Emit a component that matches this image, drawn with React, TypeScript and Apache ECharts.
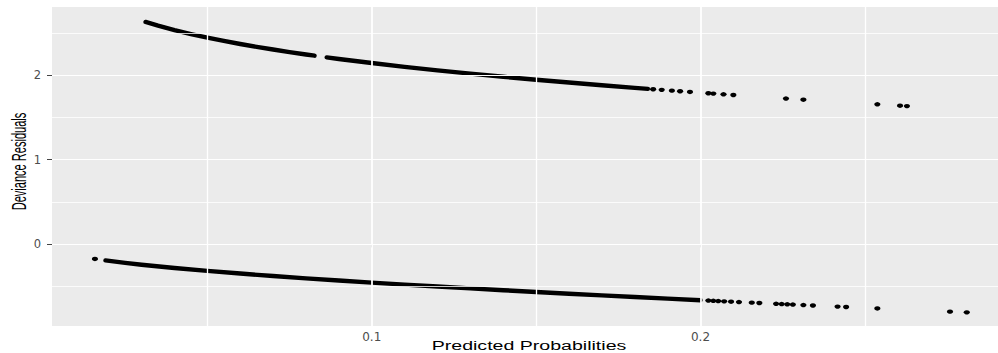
import React, { useEffect, useRef } from "react";
import * as echarts from "echarts";

// Observed deviance residuals (y = 1 branch), dense run drawn as a thick stroke
const upperRunAP = [0.0312, 0.035, 0.04, 0.045, 0.05, 0.055, 0.06, 0.065, 0.07, 0.075, 0.08, 0.0826];
const upperRunAR = [2.6334, 2.5894, 2.5373, 2.4904, 2.4477, 2.4085, 2.3721, 2.3381, 2.3062, 2.2761, 2.2475, 2.2333];
const upperRunBP = [0.0863, 0.09, 0.1, 0.11, 0.12, 0.13, 0.14, 0.15, 0.16, 0.17, 0.18, 0.184];
const upperRunBR = [2.2135, 2.1945, 2.146, 2.1011, 2.0593, 2.02, 1.983, 1.9479, 1.9145, 1.8826, 1.8519, 1.84];
const upperDotsP = [0.1856, 0.1882, 0.1913, 0.1938, 0.1968, 0.2024, 0.2039, 0.207, 0.21, 0.226, 0.2313, 0.2538, 0.2607, 0.2628];
const upperDotsR = [1.8353, 1.8277, 1.8187, 1.8116, 1.8031, 1.7875, 1.7833, 1.7748, 1.7667, 1.7246, 1.7111, 1.656, 1.6398, 1.6349];

// y = 0 branch
const lowerRunP = [0.019, 0.025, 0.03, 0.04, 0.05, 0.06, 0.07, 0.08, 0.09, 0.1, 0.11, 0.12, 0.13, 0.14, 0.15, 0.16, 0.17, 0.18, 0.19, 0.2];
const lowerRunR = [-0.1959, -0.225, -0.2468, -0.2857, -0.3203, -0.3518, -0.381, -0.4084, -0.4343, -0.459, -0.4828, -0.5056, -0.5278, -0.5492, -0.5701, -0.5905, -0.6105, -0.63, -0.6492, -0.6681];
const lowerDotsP = [0.0158, 0.2024, 0.2039, 0.2054, 0.2072, 0.2093, 0.2117, 0.2156, 0.2179, 0.223, 0.2247, 0.2264, 0.2281, 0.2313, 0.2342, 0.2417, 0.2443, 0.2538, 0.2759, 0.281];
const lowerDotsR = [-0.1785, -0.6725, -0.6753, -0.6781, -0.6815, -0.6853, -0.6898, -0.6969, -0.7011, -0.7104, -0.7135, -0.7165, -0.7196, -0.7253, -0.7305, -0.7439, -0.7485, -0.7652, -0.8035, -0.8123];

// Axis ticks and grid
const xTicks = [0.1, 0.2];
const xMinorGrid = [0.05, 0.15, 0.25];
const yTicks = [0, 1, 2];
const yMinorGrid = [-0.5, 0.5, 1.5, 2.5];
const xRange = [0.00274, 0.2905];
const yRange = [-0.974, 2.811];

const xTitle = "Predicted Probabilities";
const yTitle = "Deviance Residuals";

const zip = (a: number[], b: number[]) => a.map((v, i) => [v, b[i]]);

export default function App() {
  const ref = useRef<HTMLDivElement>(null);
  useEffect(() => {
    if (!ref.current) return;
    const chart = echarts.init(ref.current, null, { renderer: "svg" });
    const dotSize = [6.2, 4.4];
    const runStyle = { color: "#000", width: 4.4, cap: "round" as const, join: "round" as const };
    const gridLines = [
      ...xTicks.map((v) => ({ xAxis: v, lineStyle: { width: 1.8 } })),
      ...xMinorGrid.map((v) => ({ xAxis: v, lineStyle: { width: 1.3 } })),
      ...yTicks.map((v) => ({ yAxis: v, lineStyle: { width: 1.2 } })),
      ...yMinorGrid.map((v) => ({ yAxis: v, lineStyle: { width: 0.8 } })),
    ];
    chart.setOption({
      animation: false,
      backgroundColor: "#ffffff",
      grid: {
        left: 52,
        right: 0,
        top: 7,
        bottom: 27,
        show: true,
        backgroundColor: "#EBEBEB",
        borderWidth: 0,
      },
      xAxis: {
        type: "value",
        min: xRange[0],
        max: xRange[1],
        axisLine: { show: false },
        splitLine: { show: false },
        axisTick: { show: true, customValues: xTicks, length: 3.5, lineStyle: { color: "#444" } },
        axisLabel: {
          customValues: xTicks,
          margin: 5,
          color: "#4D4D4D",
          fontSize: 12,
          fontFamily: "DejaVu Sans",
          formatter: (v: number) => String(v),
        },
      },
      yAxis: {
        type: "value",
        min: yRange[0],
        max: yRange[1],
        axisLine: { show: false },
        splitLine: { show: false },
        axisTick: { show: true, customValues: yTicks, length: 5, lineStyle: { color: "#444" } },
        axisLabel: {
          customValues: yTicks,
          margin: 11,
          color: "#4D4D4D",
          fontSize: 11.5,
          fontFamily: "DejaVu Sans",
          formatter: (v: number) => String(v),
        },
      },
      graphic: [
        {
          type: "text",
          x: 529,
          y: 345.5,
          scaleX: 1.45,
          silent: true,
          style: {
            text: xTitle,
            fontFamily: "Liberation Sans, Arial",
            fontSize: 13.5,
            fill: "#000",
            align: "center",
            verticalAlign: "middle",
          },
        },
        {
          type: "text",
          x: 19.5,
          y: 161.5,
          rotation: Math.PI / 2,
          scaleX: 0.79,
          scaleY: 1.5,
          silent: true,
          style: {
            text: yTitle,
            fontFamily: "Liberation Sans, Arial",
            fontSize: 14,
            fill: "#000",
            align: "center",
            verticalAlign: "middle",
          },
        },
      ],
      series: [
        {
          type: "line",
          data: [],
          z: 1,
          silent: true,
          markLine: {
            silent: true,
            symbol: ["none", "none"],
            label: { show: false },
            lineStyle: { color: "#ffffff", type: "solid" },
            data: gridLines,
            animation: false,
          },
        },
        { type: "line", data: zip(upperRunAP, upperRunAR), showSymbol: false, symbol: "none", lineStyle: runStyle, z: 3 },
        { type: "line", data: zip(upperRunBP, upperRunBR), showSymbol: false, symbol: "none", lineStyle: runStyle, z: 3 },
        { type: "line", data: zip(lowerRunP, lowerRunR), showSymbol: false, symbol: "none", lineStyle: runStyle, z: 3 },
        {
          type: "scatter",
          data: zip(upperDotsP, upperDotsR),
          symbol: "circle",
          symbolSize: dotSize,
          itemStyle: { color: "#000", opacity: 1 },
          z: 3,
        },
        {
          type: "scatter",
          data: zip(lowerDotsP, lowerDotsR),
          symbol: "circle",
          symbolSize: dotSize,
          itemStyle: { color: "#000", opacity: 1 },
          z: 3,
        },
      ],
    });
    return () => chart.dispose();
  }, []);
  return (
    <div
      ref={ref}
      style={{ position: "fixed", left: 0, top: 0, width: 998, height: 353 }}
    />
  );
}
